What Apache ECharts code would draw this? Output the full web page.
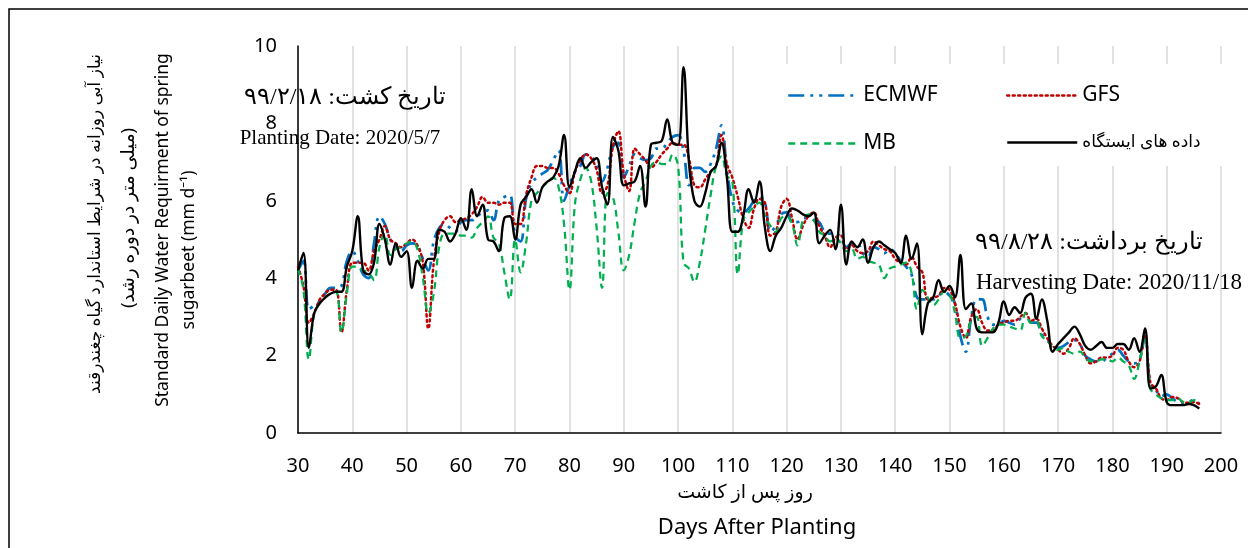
<!DOCTYPE html>
<html><head><meta charset="utf-8">
<script src="https://cdn.jsdelivr.net/npm/echarts@6/dist/echarts.min.js"></script>
<style>html,body{margin:0;padding:0;background:#fff}#c{width:1248px;height:548px}</style>
</head><body><div id="c"></div>
<script>
// ---- data (daily values, day 30 .. 196) ----
const startDay = 30;
const xTicks = [30,40,50,60,70,80,90,100,110,120,130,140,150,160,170,180,190,200];
const yTicks = [0,2,4,6,8,10];
const seriesNames = ['ECMWF','GFS','MB','داده های ایستگاه'];

const ecmwf = [
4.2,4.45,3.2,3.3,3.4,3.6,3.75,3.75,3.8,4.45,
4.7,4.45,4.1,4.0,4.9,5.6,5.4,5.0,4.8,4.7,
4.85,4.9,4.85,4.5,4.2,4.95,5.3,5.4,5.3,5.2,
5.45,5.5,5.5,5.6,5.7,5.75,5.5,6.0,6.1,6.15,
5.1,4.95,6.05,6.45,6.6,6.7,6.8,7.05,7.3,6.0,
6.4,6.75,6.9,7.2,7.15,6.95,6.5,6.85,7.4,7.5,
6.6,6.9,7.2,7.1,7.05,7.1,7.35,7.35,7.5,7.65,
7.7,7.3,6.4,6.85,6.85,6.75,6.95,7.35,7.95,6.8,
6.0,5.75,5.7,5.8,6.0,6.1,5.95,5.2,5.35,5.65,
5.7,5.45,5.45,5.55,5.55,5.5,5.45,5.2,5.15,5.15,
5.05,4.8,4.9,4.9,4.65,4.55,4.8,4.75,4.65,4.75,
4.65,4.45,4.3,4.1,3.5,3.45,3.45,3.45,3.55,3.65,
3.55,3.35,2.5,2.1,3.0,3.45,3.45,3.0,2.8,2.8,
2.9,2.85,2.8,2.95,3.1,2.85,2.85,2.55,2.4,2.25,
2.2,2.25,2.35,2.4,2.3,2.0,1.9,1.85,1.85,1.95,
2.05,2.15,2.0,1.85,1.8,1.9,2.5,1.2,1.1,0.95,
1.0,0.9,0.8,0.75,0.8,0.85,0.75
];
const gfs = [
4.3,3.8,2.85,3.1,3.45,3.6,3.7,3.7,2.6,3.7,
4.4,4.4,4.4,4.2,4.7,5.0,5.35,5.0,4.9,4.8,
4.9,5.0,4.85,4.4,2.7,4.4,5.2,5.5,5.6,5.45,
5.5,5.55,5.65,5.85,6.1,5.95,5.95,5.9,5.95,5.95,
5.4,5.4,6.15,6.6,6.9,6.9,6.85,6.85,6.7,6.4,
6.2,6.75,7.05,7.2,7.1,6.8,6.2,6.4,7.4,7.8,
6.7,6.25,7.35,7.2,7.05,6.85,7.0,7.2,7.35,7.5,
7.45,7.45,7.1,6.4,6.35,6.55,6.75,6.9,7.7,6.95,
6.6,6.1,5.55,5.3,5.8,6.05,5.95,5.1,5.2,5.85,
6.05,5.55,5.0,5.35,5.6,5.7,5.35,5.1,4.8,5.05,
5.1,4.75,4.85,4.7,4.65,4.7,4.95,4.85,4.75,4.7,
4.5,4.4,4.35,4.55,4.3,4.15,3.45,3.5,3.55,3.75,
3.7,3.35,2.75,2.45,3.0,3.2,2.85,2.65,2.65,2.8,
2.85,2.9,2.9,3.0,3.1,2.9,2.95,2.7,2.45,2.25,
2.15,2.05,2.2,2.45,2.3,2.0,1.8,1.85,1.95,1.95,
2.0,2.2,2.15,1.85,1.7,1.85,2.6,1.3,1.15,0.9,
0.85,0.93,0.9,0.8,0.78,0.8,0.75
];
const mb = [
4.25,3.7,1.9,3.1,3.35,3.5,3.6,3.65,2.6,3.6,
4.3,4.3,4.2,4.15,3.95,4.8,5.15,4.6,4.75,4.8,
4.9,4.95,4.75,4.0,3.1,3.6,4.8,5.15,5.15,5.15,
5.1,5.1,5.05,5.3,5.45,5.6,5.05,4.9,4.15,3.45,
5.0,4.15,4.9,6.0,6.2,6.35,6.5,6.6,6.35,5.4,
3.7,5.9,6.55,6.85,6.5,5.3,3.75,6.2,6.1,5.2,
4.2,4.6,5.45,6.2,6.5,6.9,7.0,6.95,6.95,7.2,
6.9,4.4,4.25,3.9,4.4,5.25,6.15,6.9,7.15,6.65,
6.5,4.1,5.5,5.7,5.85,5.95,5.6,5.35,5.2,5.55,
5.6,5.4,4.85,5.5,5.65,5.5,5.2,5.1,4.95,5.05,
4.9,4.7,4.75,4.5,4.55,4.45,4.4,4.35,4.0,4.25,
4.3,4.35,4.4,4.15,3.2,3.7,3.5,3.3,3.45,3.65,
3.6,3.1,2.45,2.5,2.9,3.0,2.25,2.45,2.7,2.8,
2.8,2.75,2.7,2.65,3.1,2.85,2.9,2.5,2.4,2.2,
2.15,2.2,2.1,2.05,2.1,1.95,1.85,1.85,1.9,1.9,
1.85,1.95,1.85,1.75,1.4,1.85,2.5,1.15,1.0,0.9,
0.85,0.85,0.9,0.8,0.78,0.85,0.8
];
const station = [
4.2,4.65,2.2,3.1,3.35,3.5,3.6,3.65,3.65,4.3,
4.7,5.6,4.2,4.1,4.4,5.4,5.0,4.35,4.9,4.55,
4.7,3.75,4.45,4.25,4.5,4.5,5.25,5.2,4.95,5.15,
5.55,5.25,6.3,5.6,5.9,5.0,4.95,4.7,5.55,5.6,
5.0,5.9,6.1,6.3,5.95,6.35,6.5,6.6,6.9,7.7,
6.35,6.75,7.1,6.85,7.0,7.1,6.35,5.9,7.65,7.3,
6.4,6.45,6.5,6.9,5.85,7.45,7.5,7.55,8.1,7.5,
7.45,9.45,7.0,6.0,5.85,6.2,6.75,6.9,7.5,6.6,
5.2,5.2,5.6,6.3,5.95,6.5,5.3,4.7,5.1,5.3,
5.6,5.8,5.75,5.65,5.6,5.7,4.9,5.1,5.25,4.75,
5.9,4.35,4.95,4.8,5.0,4.4,4.8,4.95,4.85,4.75,
4.65,4.4,5.1,4.5,4.9,2.55,3.35,3.5,3.95,3.65,
3.8,3.5,4.6,3.2,3.35,2.7,2.6,2.6,2.6,2.85,
3.4,3.05,3.25,3.1,3.5,3.6,2.95,3.45,2.9,2.1,
2.3,2.45,2.6,2.75,2.55,2.25,2.15,2.25,2.35,2.2,
2.2,2.3,2.3,2.15,2.45,2.1,2.7,1.15,1.2,1.5,
0.8,0.72,0.72,0.72,0.75,0.72,0.63
];

const toPairs = arr => arr.map((v, i) => [startDay + i, v]);
const FONT = 'Noto Sans, DejaVu Sans, sans-serif';
const SERIF = 'Liberation Serif, DejaVu Serif, serif';

const chart = echarts.init(document.getElementById('c'), null, {renderer: 'canvas'});

function legendItem(name, left, top, fs) {
  return {
    data: [name], left: left, top: top, padding: 0, itemGap: 0,
    itemWidth: 70, itemHeight: 14,
    itemStyle: {opacity: 0},
    lineStyle: {width: 2.5},
    textStyle: {fontFamily: FONT, fontSize: fs, color: '#000'},
    selectedMode: false
  };
}

chart.setOption({
  backgroundColor: '#fff',
  animation: false,
  grid: {left: 298, right: 27, top: 46, bottom: 115, containLabel: false},
  xAxis: {
    type: 'value', min: xTicks[0], max: xTicks[xTicks.length - 1], interval: 10,
    axisLine: {show: true, lineStyle: {color: '#000', width: 1.5}},
    axisTick: {show: false},
    axisLabel: {fontFamily: FONT, fontSize: 20, color: '#000', margin: 23},
    splitLine: {show: true, lineStyle: {color: '#d9d9d9', width: 1.5}}
  },
  yAxis: {
    type: 'value', min: yTicks[0], max: yTicks[yTicks.length - 1], interval: 2,
    axisLine: {show: true, lineStyle: {color: '#000', width: 1.5}},
    axisTick: {show: false},
    axisLabel: {fontFamily: FONT, fontSize: 20, color: '#000', margin: 21},
    splitLine: {show: false}
  },
  legend: [
    legendItem(seriesNames[0], 787, 85, 21),
    legendItem(seriesNames[1], 1006, 85, 21),
    legendItem(seriesNames[2], 787, 133, 21),
    legendItem(seriesNames[3], 1006, 134, 17)
  ],
  series: [
    {name: seriesNames[0], type: 'line', data: toPairs(ecmwf), smooth: 0.4, symbol: 'none', z: 3,
     itemStyle: {color: '#0070C0'},
     lineStyle: {color: '#0070C0', width: 2.75, type: [16, 6, 3, 6, 3, 6]}},
    {name: seriesNames[1], type: 'line', data: toPairs(gfs), smooth: 0.4, symbol: 'none', z: 3,
     itemStyle: {color: '#C00000'},
     lineStyle: {color: '#C00000', width: 2.5, type: [2, 3.5], cap: 'round'}},
    {name: seriesNames[2], type: 'line', data: toPairs(mb), smooth: 0.4, symbol: 'none', z: 3,
     itemStyle: {color: '#00B050'},
     lineStyle: {color: '#00B050', width: 2.25, type: [7, 5]}},
    {name: seriesNames[3], type: 'line', data: toPairs(station), smooth: 0.4, symbol: 'none', z: 4,
     itemStyle: {color: '#000'},
     lineStyle: {color: '#000', width: 2.4}}
  ],
  graphic: [
    {type: 'rect', z: 1, shape: {x: 9, y: 9, width: 1300, height: 600},
     style: {fill: 'none', stroke: '#000', lineWidth: 1.5}},
    {type: 'rect', z: 1, shape: {x: 768, y: 64, width: 456, height: 102},
     style: {fill: '#fff'}},
    // y-axis titles (rotated)
    {type: 'text', x: 95, y: 224, rotation: Math.PI / 2, z: 5,
     style: {text: 'نیاز آبی روزانه در شرایط استاندارد گیاه چغندرقند', fontFamily: FONT, fontSize: 17,
             fill: '#000', align: 'center', verticalAlign: 'middle'}},
    {type: 'text', x: 129, y: 218, rotation: Math.PI / 2, z: 5,
     style: {text: '(میلی متر در دوره رشد)', fontFamily: FONT, fontSize: 18.5,
             fill: '#000', align: 'center', verticalAlign: 'middle'}},
    {type: 'text', x: 163, y: 230, rotation: Math.PI / 2, z: 5,
     style: {text: 'Standard Daily Water Requirment of spring', fontFamily: FONT, fontSize: 17.5,
             fill: '#000', align: 'center', verticalAlign: 'middle'}},
    {type: 'text', x: 189, y: 250, rotation: Math.PI / 2, z: 5,
     style: {text: 'sugarbeet (mm d⁻¹)', fontFamily: FONT, fontSize: 17.5,
             fill: '#000', align: 'center', verticalAlign: 'middle'}},
    // x-axis titles
    {type: 'text', x: 745, y: 493, z: 5,
     style: {text: 'روز پس از کاشت', fontFamily: FONT, fontSize: 19,
             fill: '#000', align: 'center', verticalAlign: 'middle'}},
    {type: 'text', x: 757, y: 528, z: 5,
     style: {text: 'Days After Planting', fontFamily: FONT, fontSize: 22,
             fill: '#000', align: 'center', verticalAlign: 'middle'}},
    // planting / harvesting annotations
    {type: 'text', x: 345, y: 98, z: 5,
     style: {text: 'تاریخ کشت: ۹۹/۲/۱۸', fontFamily: SERIF, fontSize: 24,
             fill: '#000', align: 'center', verticalAlign: 'middle'}},
    {type: 'text', x: 340, y: 138, z: 5,
     style: {text: 'Planting Date: 2020/5/7', fontFamily: SERIF, fontSize: 21,
             fill: '#000', align: 'center', verticalAlign: 'middle'}},
    {type: 'text', x: 1089, y: 243, z: 5,
     style: {text: 'تاریخ برداشت: ۹۹/۸/۲۸', fontFamily: SERIF, fontSize: 24,
             fill: '#000', align: 'center', verticalAlign: 'middle'}},
    {type: 'text', x: 1109, y: 283, z: 5,
     style: {text: 'Harvesting Date: 2020/11/18', fontFamily: SERIF, fontSize: 23,
             fill: '#000', align: 'center', verticalAlign: 'middle'}}
  ]
});
</script></body></html>
